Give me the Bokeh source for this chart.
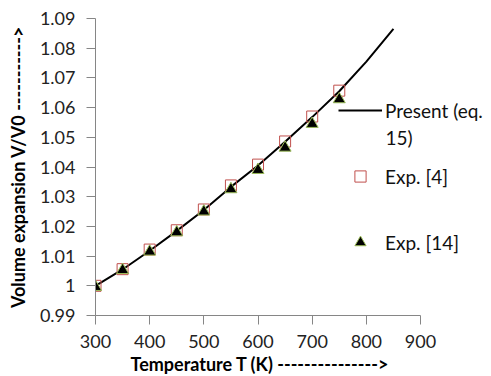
from bokeh.plotting import figure
from bokeh.models import Range1d, FixedTicker, Legend, LegendItem, Label, Title
from bokeh.embed import file_html
from bokeh.resources import INLINE

# Data
temp_line = [300, 350, 400, 450, 500, 550, 600, 650, 700, 750, 800, 850]
vv0_line = [1.0, 1.0055, 1.0118, 1.0185, 1.0255, 1.0333, 1.0405, 1.0485, 1.0568, 1.0655, 1.0755, 1.0865]

temp_exp4 = [300, 350, 400, 450, 500, 550, 600, 650, 700, 750]
vv0_exp4 = [1.0, 1.0056, 1.0122, 1.0187, 1.0257, 1.0338, 1.0408, 1.0486, 1.0570, 1.0657]

temp_exp14 = [300, 350, 400, 450, 500, 550, 600, 650, 700, 750]
vv0_exp14 = [0.9996, 1.0053, 1.0115, 1.0180, 1.0250, 1.0325, 1.0390, 1.0465, 1.0545, 1.0628]

x_ticks = [300, 400, 500, 600, 700, 800, 900]
y_ticks = [0.99, 1.0, 1.01, 1.02, 1.03, 1.04, 1.05, 1.06, 1.07, 1.08, 1.09]
y_tick_labels = ["0.99", "1", "1.01", "1.02", "1.03", "1.04", "1.05", "1.06", "1.07", "1.08", "1.09"]

series_labels = ["Present (eq.", "Exp. [4]", "Exp. [14]"]
extra_label = "15)"
x_title = "Temperature T (K) --------------->"
y_title = "Volume expansion V/V0 ----------->"

FONT = "Lato"
GRAY = "#868686"

# The frame runs to the right edge of the picture so the legend text is not clipped;
# the x axis line itself is bounded to 300..900.
X_VIEW_END = 1031
p = figure(width=491, height=376, output_backend="svg", toolbar_location=None,
           x_range=Range1d(300, X_VIEW_END), y_range=Range1d(0.99, 1.09),
           min_border_left=95, min_border_right=0, min_border_top=18, min_border_bottom=61)
p.outline_line_color = None
p.xgrid.visible = False
p.ygrid.visible = False

l_line = p.line(temp_line, vv0_line, line_color="black", line_width=2)
l_sq = p.scatter(temp_exp4, vv0_exp4, marker="square", size=11, fill_color=None,
                 line_color="#C0504D", line_width=1)
l_tri = p.scatter(temp_exp14, vv0_exp14, marker="triangle", size=12, fill_color="black",
                  line_color="#9BBB59", line_width=1)

for ax in (p.xaxis[0], p.yaxis[0]):
    ax.axis_line_color = GRAY
    ax.major_tick_line_color = GRAY
    ax.minor_tick_line_color = None
    ax.major_tick_in = 0
    ax.major_tick_out = 9
    ax.major_label_text_font = FONT
    ax.major_label_text_font_size = "18px"
    ax.major_label_text_color = "#222222"
    ax.axis_label_text_font = FONT
    ax.axis_label_text_font_size = "18px"
    ax.axis_label_text_font_style = "bold"
    ax.axis_label_text_color = "black"

p.xaxis.bounds = (x_ticks[0], x_ticks[-1])
p.xaxis.ticker = FixedTicker(ticks=x_ticks)
p.yaxis.ticker = FixedTicker(ticks=y_ticks)
p.yaxis.major_label_overrides = {t: s for t, s in zip(y_ticks, y_tick_labels)}
p.yaxis.axis_label = y_title
p.xaxis.major_label_standoff = 10
p.yaxis.major_label_standoff = 11
p.yaxis.axis_label_standoff = 8

# x-axis title, placed under the bounded axis (centred under 300..900)
p.add_layout(Title(text=x_title, align="left", offset=35, standoff=0,
                   text_font=FONT, text_font_size="18px", text_font_style="bold",
                   text_color="black"), "below")

legend = Legend(items=[LegendItem(label=series_labels[0], renderers=[l_line]),
                       LegendItem(label=series_labels[1], renderers=[l_sq]),
                       LegendItem(label=series_labels[2], renderers=[l_tri])],
                location=(243, 59), padding=0, margin=0, spacing=38,
                glyph_width=44, glyph_height=28, label_height=28, label_standoff=3,
                label_text_font=FONT, label_text_font_size="19px", label_text_color="#111111",
                border_line_color=None, background_fill_alpha=0)
p.add_layout(legend)

p.add_layout(Label(x=290, y=178, x_units="screen", y_units="screen", text=extra_label,
                   text_font=FONT, text_font_size="19px", text_baseline="middle",
                   text_color="#111111"))

open("out.html", "w").write(file_html(p, INLINE))
